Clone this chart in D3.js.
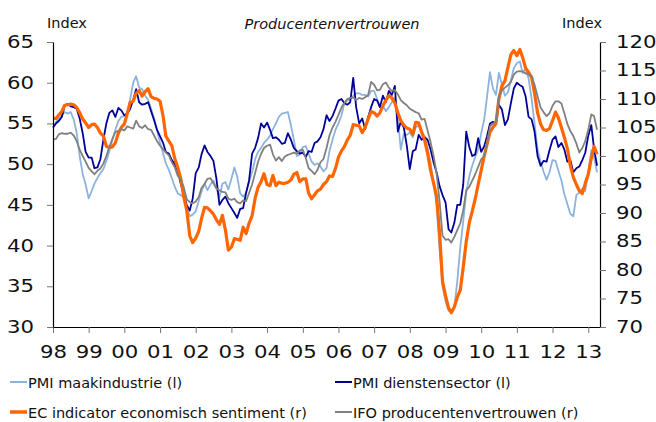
<!DOCTYPE html>
<html>
<head>
<meta charset="utf-8">
<script src="https://cdn.jsdelivr.net/npm/d3@7"></script>
<style>
body { margin: 0; background: #fff; }
svg { display: block; font-family: "DejaVu Sans", Verdana, sans-serif; }
</style>
</head>
<body>
<svg></svg>
<script>
// monthly values, Jan 1998 - Apr 2013
var pmiManuf = [
  54.5, 55.2, 55.6, 56.0, 56.4, 56.2, 56.4, 55.5, 53.8, 51.0, 48.8, 47.5, 45.8, 46.7, 47.6, 48.3, 48.9, 49.4, 50.4, 51.6, 53.0, 54.2, 55.3, 55.8, 55.9, 56.3,
  58.0, 60.0, 60.8, 59.4, 59.2, 58.4, 57.9, 56.8, 55.6, 54.2, 52.6, 51.3, 50.1, 49.3, 48.3, 47.2, 46.4, 46.2, 45.9, 44.6, 43.6, 43.8, 44.2, 45.5, 46.6, 47.6,
  46.8, 47.5, 48.0, 47.0, 46.0, 47.6, 47.8, 46.9, 48.2, 49.6, 48.5, 46.4, 46.0, 46.5, 47.8, 49.0, 50.6, 51.5, 52.0, 52.6, 53.0, 53.5, 54.3, 55.0, 55.8, 56.2,
  56.3, 56.4, 54.8, 53.0, 51.0, 51.2, 52.1, 52.2, 51.3, 50.3, 49.9, 50.1, 49.7, 49.1, 49.5, 51.6, 53.0, 54.2, 55.0, 56.0, 57.4, 57.8, 58.0, 58.4, 58.7, 58.7,
  58.5, 58.5, 58.3, 59.0, 59.0, 58.0, 57.0, 57.2, 56.5, 57.0, 57.6, 58.2, 55.5, 51.8, 53.7, 53.6, 53.9, 53.3, 54.5, 54.8, 54.0, 53.4, 52.0, 50.2, 47.5, 45.0,
  39.5, 35.0, 33.2, 32.0, 31.9, 32.4, 35.6, 39.8, 43.0, 46.5, 48.5, 49.8, 50.9, 51.8, 53.8, 55.5, 58.2, 61.3, 59.3, 58.5, 61.2, 59.8, 58.4, 58.8, 60.3, 61.8, 62.4,
  62.6, 61.2, 61.8, 60.5, 58.0, 55.0, 51.8, 50.3, 49.1, 48.1, 49.0, 50.5, 50.4, 49.2, 48.0, 46.3, 45.1, 43.9, 43.6, 46.2, 46.5, 47.0, 46.7, 49.0, 51.7, 50.8, 49.0
]
var pmiServ = [
  54.5, 55.0, 55.3, 55.8, 57.2, 57.4, 57.1, 57.0, 56.8, 55.6, 53.8, 51.5, 50.8, 50.8, 49.5, 49.6, 50.6, 53.0, 55.0, 56.3, 56.6, 55.8, 56.9, 56.6, 56.0, 56.2,
  56.8, 57.9, 59.2, 57.6, 57.3, 57.4, 57.6, 56.5, 55.4, 54.2, 53.4, 52.6, 51.5, 51.3, 50.5, 50.0, 49.2, 47.6, 46.2, 45.0, 44.3, 45.8, 48.9, 49.6, 51.2, 52.3,
  51.5, 51.0, 50.4, 48.2, 45.0, 45.6, 46.0, 45.2, 44.6, 44.0, 43.4, 44.5, 44.6, 46.5, 48.0, 51.3, 52.0, 53.2, 55.0, 54.5, 55.1, 54.2, 53.2, 53.3, 53.0, 52.5,
  52.6, 53.8, 53.0, 52.0, 51.6, 51.3, 51.4, 50.9, 51.6, 51.5, 52.6, 52.8, 53.3, 54.3, 56.0, 55.3, 55.9, 56.8, 57.8, 58.0, 57.5, 57.3, 57.6, 60.6, 57.0, 55.0,
  55.6, 54.3, 55.8, 57.0, 58.0, 57.8, 57.0, 58.4, 57.6, 59.0, 58.5, 59.6, 54.0, 55.2, 54.5, 52.3, 49.4, 51.6, 51.8, 53.6, 53.0, 53.3, 53.0, 51.8, 50.2, 49.0,
  47.3, 46.2, 45.3, 42.0, 41.6, 42.8, 45.0, 45.0, 47.5, 54.0, 52.1, 51.0, 51.2, 53.2, 51.5, 52.2, 53.4, 55.0, 55.2, 55.0, 57.3, 56.7, 54.8, 55.5, 57.5, 59.3, 60.0,
  59.7, 59.5, 58.3, 55.8, 55.5, 54.0, 51.0, 49.8, 50.4, 50.3, 51.7, 53.0, 53.4, 52.1, 52.6, 51.8, 50.3, 50.5, 49.0, 49.5, 49.7, 50.5, 51.4, 53.5, 54.8, 51.9, 49.8
]
var ecSentiment = [
  106.6, 106.6, 107.2, 107.8, 108.9, 109.0, 109.1, 109.0, 108.5, 107.6, 106.5, 105.8, 105.0, 105.5, 105.6, 105.0, 104.0, 103.5, 101.7, 101.5, 101.6, 102.3, 104.0, 105.0, 105.6, 107.5,
  109.4, 109.6, 111.0, 111.5, 110.5, 111.3, 111.8, 110.4, 110.1, 110.0, 109.6, 107.0, 103.5, 102.6, 101.8, 99.5, 98.0, 96.0, 92.8, 90.5, 86.0, 84.8, 85.6, 86.8, 89.0, 91.0,
  90.9, 90.4, 89.8, 88.8, 88.0, 89.6, 87.0, 83.5, 84.0, 85.5, 85.4, 85.2, 87.5, 86.4, 88.2, 89.5, 92.6, 94.5, 95.5, 96.9, 95.0, 94.8, 96.6, 94.8, 95.4, 95.2,
  95.2, 95.4, 95.8, 96.8, 97.1, 95.5, 96.0, 96.0, 93.5, 92.5, 93.2, 93.9, 94.2, 95.0, 95.5, 96.5, 96.4, 97.8, 99.8, 100.9, 101.6, 102.8, 103.6, 105.5, 105.4, 105.3,
  104.1, 105.0, 106.5, 107.8, 107.6, 107.0, 107.6, 108.8, 109.8, 110.6, 110.2, 109.3, 107.6, 106.2, 105.4, 104.9, 104.7, 103.8, 105.9, 105.8, 104.2, 102.8, 100.5, 97.5, 95.2, 93.0,
  86.5, 78.0, 75.5, 73.3, 72.5, 73.5, 75.2, 76.5, 80.5, 85.0, 88.3, 90.3, 92.5, 95.0, 97.5, 100.0, 102.0, 104.2, 105.0, 105.7,
  110.0, 112.3, 113.2, 115.5, 117.8, 118.5, 117.6, 118.7, 117.3, 115.4, 114.7, 113.8, 111.0, 107.6, 105.6, 104.6, 104.5, 104.8, 106.2, 107.7, 106.7, 105.0, 103.3, 101.3, 98.3, 96.3, 95.0, 93.9, 93.4, 95.2, 96.8, 99.6, 101.7, 100.3
]
var ifo = [
  102.9, 103.0, 103.8, 104.0, 103.9, 103.9, 104.1, 103.6, 102.6, 101.1, 100.0, 99.0, 97.9, 97.3, 96.8, 97.4, 97.8, 98.7, 100.0, 101.6, 103.0, 104.2, 104.4, 104.7, 104.5, 105.2,
  105.0, 104.8, 106.2, 105.2, 104.9, 105.4, 104.7, 104.6, 103.6, 102.6, 101.8, 101.2, 100.6, 100.1, 98.9, 98.0, 96.5, 95.9, 94.5, 92.4, 91.9, 91.7, 92.0, 92.8, 94.4, 95.1,
  96.0, 96.1, 95.2, 94.3, 94.0, 93.7, 93.6, 92.5, 92.3, 92.5, 91.9, 91.7, 92.2, 92.1, 93.5, 95.0, 97.0, 99.0, 100.4, 101.4, 101.8, 102.0, 100.3, 99.2, 99.8, 99.1,
  99.9, 100.2, 100.4, 100.6, 100.4, 101.0, 101.1, 99.6, 97.9, 97.4, 96.8, 97.6, 98.9, 99.5, 101.4, 103.6, 105.0, 106.0, 107.2, 108.5, 109.3, 110.0, 110.2, 110.3, 109.8, 110.2,
  110.0, 110.3, 110.7, 113.0, 112.5, 111.5, 111.6, 112.6, 112.9, 112.0, 111.4, 111.6, 110.8, 109.8, 109.3, 108.9, 108.3, 108.0, 107.7, 107.5, 106.4, 106.5, 104.5, 102.4, 100.0, 97.0,
  92.0, 86.0, 85.3, 85.4, 84.8, 85.8, 87.0, 88.2, 90.5, 94.0, 94.6, 95.7, 96.8, 98.1, 99.4, 100.0, 102.0, 105.2, 105.7, 106.0, 110.5, 111.5, 112.0, 112.4, 113.0, 114.3, 114.8,
  114.9, 114.8, 114.5, 114.3, 114.0, 112.5, 110.5, 108.5, 107.7, 107.0, 107.5, 108.8, 109.6, 109.6, 109.2, 107.5, 105.6, 104.4, 103.5, 102.2, 100.6, 101.4, 102.6, 104.6, 107.3, 107.0, 104.6
]
var leftTicks = [30, 35, 40, 45, 50, 55, 60, 65]
var rightTicks = [70, 75, 80, 85, 90, 95, 100, 105, 110, 115, 120]
var years = [1998, 1999, 2000, 2001, 2002, 2003, 2004, 2005, 2006, 2007, 2008, 2009, 2010, 2011, 2012, 2013]
var seriesNames = ["PMI maakindustrie (l)", "PMI dienstensector (l)", "EC indicator economisch sentiment (r)", "IFO producentenvertrouwen (r)"]

var width = 656
var height = 422
var plotL = 53, plotR = 600, plotT = 42, plotB = 327
var sx = 1.25   // tick digits in the original are drawn wide

var svg = d3.select("svg")
    .attr("width", width)
    .attr("height", height)

var x = d3.scaleTime()
    .domain([new Date(1998, 0, 1), new Date(2013, 4, 1)])
    .range([plotL, plotR])
var yL = d3.scaleLinear().domain([30, 65]).range([plotB, plotT])
var yR = d3.scaleLinear().domain([70, 120]).range([plotB, plotT])

var month = function(i) { return d3.timeMonth.offset(new Date(1998, 0, 1), i) }

var series = [
    { name: seriesNames[0], values: pmiManuf, y: yL, color: "#8db3dc", w: 1.8 },
    { name: seriesNames[1], values: pmiServ, y: yL, color: "#000099", w: 1.8 },
    { name: seriesNames[2], values: ecSentiment, y: yR, color: "#ff6600", w: 3.2 },
    { name: seriesNames[3], values: ifo, y: yR, color: "#808080", w: 1.8 }
]

// lines
var lines = svg.append("g").attr("class", "lines")
series.forEach(function(s) {
    var line = d3.line()
        .x(function(d, i) { return x(month(i)) })
        .y(function(d) { return s.y(d) })
    lines.append("path")
        .datum(s.values)
        .attr("d", line)
        .attr("fill", "none")
        .attr("stroke", s.color)
        .attr("stroke-width", s.w)
        .attr("stroke-linejoin", "round")
})

//stretch the tick labels horizontally
function styleAxis(g, lx) {
    g.attr("font-family", '"DejaVu Sans", Verdana, sans-serif').attr("font-size", 17)
    g.select(".domain").attr("stroke", "#000").attr("stroke-width", 1.2)
    g.selectAll(".tick line").attr("stroke", "#777")
    g.selectAll(".tick text").attr("fill", "#111").each(function() {
        var t = d3.select(this)
        var tx = lx == null ? 0 : lx
        t.attr("x", tx / sx).attr("transform", "scale(" + sx + ",1)")
    })
}

var xAxis = svg.append("g")
    .attr("transform", "translate(0," + plotB + ")")
    .call(d3.axisBottom(x)
        .tickValues(years.map(function(y) { return new Date(y, 0, 1) }))
        .tickFormat(d3.timeFormat("%y"))
        .tickSize(6).tickSizeOuter(0).tickPadding(13))
styleAxis(xAxis, null)

var yAxisL = svg.append("g")
    .attr("transform", "translate(" + plotL + ",0)")
    .call(d3.axisLeft(yL).tickValues(leftTicks).tickSize(6).tickSizeOuter(0))
styleAxis(yAxisL, -19)

var yAxisR = svg.append("g")
    .attr("transform", "translate(" + plotR + ",0)")
    .call(d3.axisRight(yR).tickValues(rightTicks).tickSize(6).tickSizeOuter(0))
styleAxis(yAxisR, 16)

// titles
svg.append("text").attr("x", 47).attr("y", 28)
    .attr("font-size", 14.5).attr("fill", "#111").text("Index")
svg.append("text").attr("x", 602).attr("y", 28).attr("text-anchor", "end")
    .attr("font-size", 14.5).attr("fill", "#111").text("Index")
svg.append("text").attr("x", 332).attr("y", 29).attr("text-anchor", "middle")
    .attr("font-size", 14.5).attr("font-style", "italic").attr("fill", "#111")
    .text("Producentenvertrouwen")

// legend
var legPos = [[10, 382], [335, 382], [10, 412], [335, 412]]
var legend = svg.append("g").attr("class", "legend")
    .selectAll("g")
    .data(series)
    .enter().append("g")
    .attr("transform", function(d, i) { return "translate(" + legPos[i][0] + "," + legPos[i][1] + ")" })
legend.append("line")
    .attr("x1", 0).attr("x2", 17).attr("y1", 0).attr("y2", 0)
    .attr("stroke", function(d) { return d.color })
    .attr("stroke-width", function(d) { return d.w > 2 ? 3.5 : 2 })
legend.append("text")
    .attr("x", 18).attr("y", 5.5)
    .attr("font-size", 14.5).attr("fill", "#111")
    .text(function(d) { return d.name })
</script>
</body>
</html>
